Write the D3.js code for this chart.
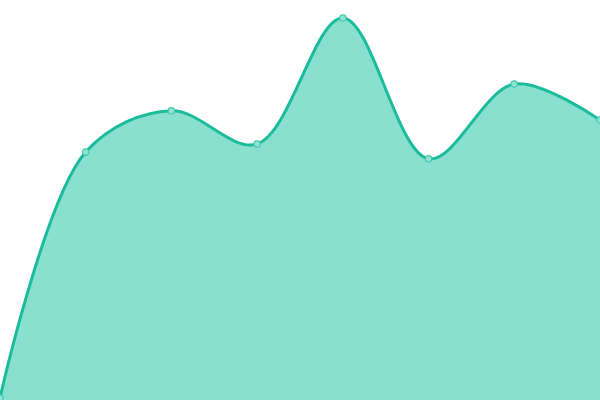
<!DOCTYPE html>
<html lang="en">
<head>
    <meta charset="UTF-8">
    <title>Area</title>
    <script src="https://d3js.org/d3.v7.min.js"></script>
    <style>
        html, body { margin: 0; padding: 0; background: #fff; }
        svg { display: block; }
    </style>
</head>
<body>
    <div id="chart"></div>
    <script>
        // values
        const steps = [0, 1, 2, 3, 4, 5, 6, 7];
        const values = [0.5, 62, 72.3, 64, 95.5, 60.3, 79, 70];

        const width = 600;
        const height = 400;

        const svg = d3.select("#chart")
            .append("svg")
            .attr("width", width)
            .attr("height", height);

        const x = d3.scaleLinear()
            .domain(d3.extent(steps))
            .range([0, width]);

        const y = d3.scaleLinear()
            .domain([0, 100])
            .range([height, 0]);

        const data = steps.map((s, i) => ({ s, v: values[i] }));

        const area = d3.area()
            .x(d => x(d.s))
            .y0(height)
            .y1(d => y(d.v))
            .curve(d3.curveCatmullRom);

        const line = d3.line()
            .x(d => x(d.s))
            .y(d => y(d.v))
            .curve(d3.curveCatmullRom);

        svg.append("path")
            .datum(data)
            .attr("fill", "#89e0cf")
            .attr("d", area);

        svg.append("path")
            .datum(data)
            .attr("fill", "none")
            .attr("stroke", "#1abc9c")
            .attr("stroke-width", 3)
            .attr("d", line);

        svg.selectAll("circle")
            .data(data)
            .join("circle")
            .attr("cx", d => x(d.s))
            .attr("cy", d => y(d.v))
            .attr("r", 3.2)
            .attr("fill", "#8fe3d2")
            .attr("stroke", "#45c9ad")
            .attr("stroke-width", 1.2);
    </script>
</body>
</html>
